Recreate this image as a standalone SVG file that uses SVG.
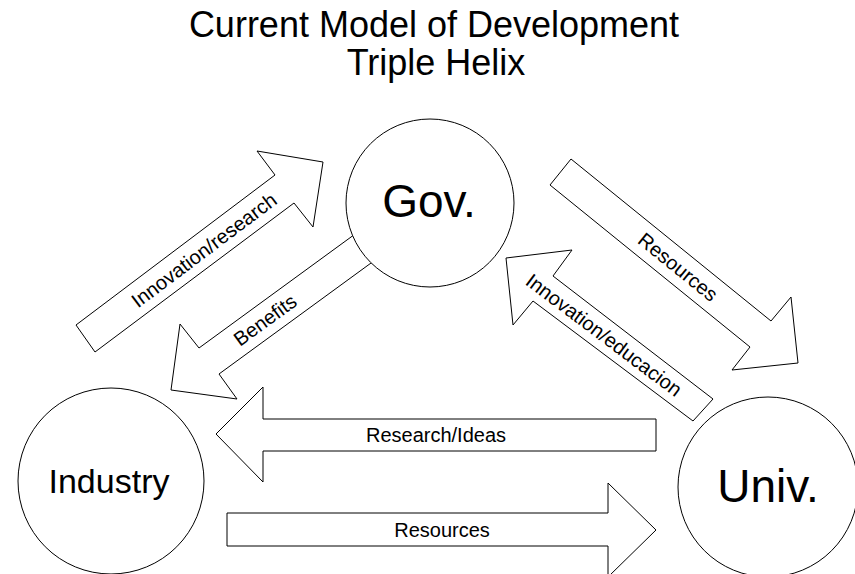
<svg xmlns="http://www.w3.org/2000/svg" width="855" height="574" viewBox="0 0 855 574">
<style>
  .shape { fill: #ffffff; stroke: #000000; stroke-width: 1; }
  text { font-family: "Liberation Sans", Arial, sans-serif; fill: #000000; text-anchor: middle; }
  .title { font-size: 36px; }
  .node { font-size: 46px; }
  .lbl { font-size: 20px; }
</style>
<rect width="855" height="574" fill="#ffffff"/>
<g id="title">
  <text class="title" x="434" y="37">Current Model of Development</text>
  <text class="title" x="436" y="75">Triple Helix</text>
</g>
<g id="connectors">
  <g id="arrow-innovation-research">
    <polygon class="shape" points="76,325 275,175 257,151 323,162 313,227 294,203 95,352"/>
    <text class="lbl" x="0" y="7" transform="translate(204,250) rotate(-37)">Innovation/research</text>
  </g>
  <g id="arrow-benefits">
    <polygon class="shape" points="362,229 199,348 180,324 171,390 237,399 219,374 382,255"/>
    <text class="lbl" x="0" y="7" transform="translate(265,320) rotate(-36)">Benefits</text>
  </g>
  <g id="arrow-resources-gov-univ">
    <polygon class="shape" points="571,159 771,321 791,297 798,363 732,370 750,347 550,185"/>
    <text class="lbl" x="0" y="7" transform="translate(678,267) rotate(39)">Resources</text>
  </g>
  <g id="arrow-innovation-educacion">
    <polygon class="shape" points="713,399 553,276 572,250 506,258 513,325 533,301 693,421"/>
    <text class="lbl" x="0" y="7" transform="translate(604,335) rotate(37)">Innovation/educacion</text>
  </g>
  <g id="arrow-research-ideas">
    <polygon class="shape" points="656,419 263,419 263,387 216,434 263,482 263,451 656,451"/>
    <text class="lbl" x="436" y="442">Research/Ideas</text>
  </g>
  <g id="arrow-resources-ind-univ">
    <polygon class="shape" points="227,513 608,513 608,483 656,530 608,577 608,546 227,546"/>
    <text class="lbl" x="442" y="537">Resources</text>
  </g>
</g>
<g id="gov">
  <circle class="shape" cx="430" cy="203" r="84"/>
  <text class="node" x="429" y="217">Gov.</text>
</g>
<g id="industry">
  <circle class="shape" cx="111" cy="481" r="93"/>
  <text class="node" x="109" y="493" style="font-size:34px">Industry</text>
</g>
<g id="univ">
  <circle class="shape" cx="768" cy="487" r="90"/>
  <text class="node" x="768" y="502">Univ.</text>
</g>
</svg>
